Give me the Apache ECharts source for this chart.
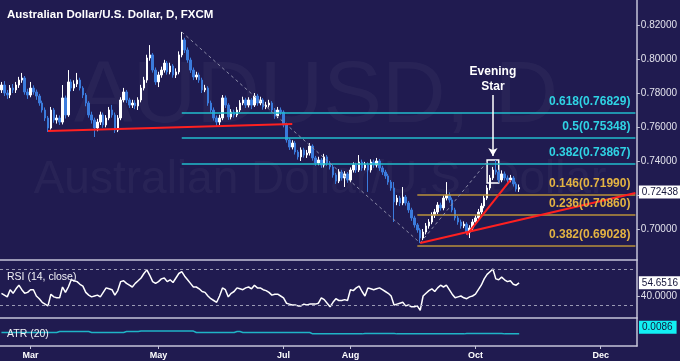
<!DOCTYPE html>
<html>
<head>
<meta charset="utf-8">
<title>Australian Dollar/U.S. Dollar, D</title>
<script src="https://cdn.jsdelivr.net/npm/echarts@6.0.0/dist/echarts.min.js"></script>
<style>
    html, body { margin: 0; padding: 0; background: #201b50; }
    #chart_main { width: 680px; height: 361px; }
</style>
</head>
<body>
<div id="chart_main"></div>
<script>
// daily candles, Feb 16 2015 .. Oct 22 2015 (weekdays)
let opens = [
    0.7818,0.7847,0.7800,0.7788,0.7829, 0.7818,0.7847,0.7876,0.7888,0.7806,
    0.7788,0.7829,0.7806,0.7782,0.7741, 0.7700,0.7653,0.7594,0.7700,0.7641,
    0.7653,0.7629,0.7771,0.7671,0.7865, 0.7829,0.7853,0.7876,0.7829,0.7788,
    0.7741,0.7671,0.7641,0.7594,0.7629, 0.7671,0.7612,0.7653,0.7700,0.7671,
    0.7582,0.7653,0.7759,0.7806,0.7759, 0.7729,0.7741,0.7724,0.7759,0.7829,
    0.7876,0.8006,0.8024,0.7935,0.7865, 0.7906,0.7935,0.7976,0.7924,0.7959,
    0.7906,0.7924,0.8024,0.8112,0.8053, 0.7994,0.7935,0.7894,0.7906,0.7876,
    0.7818,0.7829,0.7741,0.7700,0.7653, 0.7629,0.7653,0.7771,0.7729,0.7659,
    0.7688,0.7671,0.7700,0.7741,0.7759, 0.7729,0.7759,0.7729,0.7782,0.7741,
    0.7759,0.7718,0.7729,0.7741,0.7700, 0.7665,0.7700,0.7688,0.7612,0.7524,
    0.7482,0.7506,0.7453,0.7424,0.7465, 0.7435,0.7447,0.7488,0.7418,0.7388,
    0.7406,0.7376,0.7424,0.7388,0.7365, 0.7318,0.7282,0.7335,0.7300,0.7324,
    0.7288,0.7347,0.7376,0.7347,0.7394, 0.7359,0.7376,0.7347,0.7394,0.7376,
    0.7400,0.7359,0.7335,0.7312,0.7276, 0.7241,0.7159,0.7182,0.7153,0.7188,
    0.7153,0.7112,0.7065,0.7024,0.6994, 0.6947,0.6982,0.7018,0.7041,0.7082,
    0.7100,0.7141,0.7124,0.7182,0.7200, 0.7171,0.7112,0.7065,0.7041,0.7018,
    0.7029,0.6982,0.7006,0.7041,0.7065, 0.7100,0.7135,0.7182,0.7241,0.7300,
    0.7347,0.7335,0.7288,0.7324,0.7300, 0.7288,0.7300,0.7265,0.7235
];
let closes = [
    0.7847,0.7800,0.7788,0.7829,0.7818, 0.7847,0.7876,0.7888,0.7806,0.7788,
    0.7829,0.7806,0.7782,0.7741,0.7700, 0.7653,0.7594,0.7700,0.7641,0.7653,
    0.7629,0.7771,0.7671,0.7865,0.7829, 0.7853,0.7876,0.7829,0.7788,0.7741,
    0.7671,0.7641,0.7594,0.7629,0.7671, 0.7612,0.7653,0.7700,0.7671,0.7582,
    0.7653,0.7759,0.7806,0.7759,0.7729, 0.7741,0.7724,0.7759,0.7829,0.7876,
    0.8006,0.8024,0.7935,0.7865,0.7906, 0.7935,0.7976,0.7924,0.7959,0.7906,
    0.7924,0.8024,0.8112,0.8053,0.7994, 0.7935,0.7894,0.7906,0.7876,0.7818,
    0.7829,0.7741,0.7700,0.7653,0.7629, 0.7653,0.7771,0.7729,0.7659,0.7688,
    0.7671,0.7700,0.7741,0.7759,0.7729, 0.7759,0.7729,0.7782,0.7741,0.7759,
    0.7718,0.7729,0.7741,0.7700,0.7665, 0.7700,0.7688,0.7612,0.7524,0.7482,
    0.7506,0.7453,0.7424,0.7465,0.7435, 0.7447,0.7488,0.7418,0.7388,0.7406,
    0.7376,0.7424,0.7388,0.7365,0.7318, 0.7282,0.7335,0.7300,0.7324,0.7288,
    0.7347,0.7376,0.7347,0.7394,0.7359, 0.7376,0.7347,0.7394,0.7376,0.7400,
    0.7359,0.7335,0.7312,0.7276,0.7241, 0.7159,0.7182,0.7153,0.7188,0.7153,
    0.7112,0.7065,0.7024,0.6994,0.6947, 0.6982,0.7018,0.7041,0.7082,0.7100,
    0.7141,0.7124,0.7182,0.7200,0.7171, 0.7112,0.7065,0.7041,0.7018,0.7029,
    0.6982,0.7006,0.7041,0.7065,0.7100, 0.7135,0.7182,0.7241,0.7300,0.7347,
    0.7335,0.7288,0.7324,0.7300,0.7288, 0.7300,0.7265,0.7235,0.72438
];
let highs = [
    0.7865,0.7870,0.7818,0.7847,0.7853, 0.7865,0.7895,0.7918,0.7900,0.7825,
    0.7865,0.7845,0.7820,0.7795,0.7755, 0.7715,0.7665,0.7718,0.7712,0.7672,
    0.7668,0.7847,0.7785,0.7935,0.7880, 0.7875,0.7918,0.7890,0.7840,0.7800,
    0.7752,0.7690,0.7655,0.7648,0.7690, 0.7685,0.7670,0.7718,0.7730,0.7685,
    0.7670,0.7775,0.7830,0.7818,0.7772, 0.7760,0.7758,0.7775,0.7848,0.7895,
    0.8025,0.8082,0.8035,0.7950,0.7925, 0.7955,0.7995,0.7988,0.7978,0.7970,
    0.7945,0.8045,0.8159,0.8125,0.8068, 0.8008,0.7950,0.7925,0.7920,0.7890,
    0.7848,0.7840,0.7755,0.7715,0.7668, 0.7672,0.7788,0.7785,0.7740,0.7705,
    0.7702,0.7718,0.7758,0.7778,0.7772, 0.7775,0.7770,0.7800,0.7795,0.7778,
    0.7770,0.7748,0.7760,0.7752,0.7712, 0.7718,0.7715,0.7698,0.7625,0.7535,
    0.7522,0.7518,0.7465,0.7480,0.7478, 0.7465,0.7505,0.7498,0.7430,0.7425,
    0.7418,0.7442,0.7435,0.7400,0.7378, 0.7330,0.7352,0.7348,0.7340,0.7335,
    0.7362,0.7392,0.7390,0.7435,0.7408, 0.7395,0.7392,0.7410,0.7408,0.7418,
    0.7412,0.7372,0.7348,0.7325,0.7288, 0.7276,0.7200,0.7195,0.7247,0.7200,
    0.7165,0.7125,0.7078,0.7035,0.7005, 0.7000,0.7035,0.7058,0.7098,0.7118,
    0.7158,0.7155,0.7198,0.7276,0.7215, 0.7185,0.7125,0.7078,0.7055,0.7045,
    0.7040,0.7022,0.7058,0.7082,0.7118, 0.7152,0.7198,0.7258,0.7318,0.7365,
    0.7406,0.7348,0.7345,0.7338,0.7315, 0.7318,0.7312,0.7278,0.7262
];
let lows = [
    0.7800,0.7782,0.7765,0.7770,0.7800, 0.7800,0.7830,0.7860,0.7790,0.7765,
    0.7775,0.7790,0.7760,0.7725,0.7685, 0.7635,0.7571,0.7585,0.7625,0.7620,
    0.7612,0.7615,0.7650,0.7660,0.7810, 0.7812,0.7835,0.7815,0.7770,0.7722,
    0.7655,0.7620,0.7541,0.7575,0.7612, 0.7595,0.7598,0.7640,0.7655,0.7565,
    0.7570,0.7640,0.7745,0.7742,0.7712, 0.7712,0.7705,0.7700,0.7745,0.7815,
    0.7860,0.7990,0.7920,0.7848,0.7835, 0.7890,0.7920,0.7908,0.7910,0.7890,
    0.7888,0.7910,0.8010,0.8035,0.7978, 0.7918,0.7876,0.7878,0.7860,0.7800,
    0.7805,0.7725,0.7685,0.7638,0.7606, 0.7612,0.7640,0.7712,0.7642,0.7645,
    0.7655,0.7658,0.7688,0.7728,0.7712, 0.7715,0.7705,0.7718,0.7725,0.7728,
    0.7702,0.7705,0.7715,0.7685,0.7648, 0.7652,0.7672,0.7598,0.7508,0.7465,
    0.7468,0.7438,0.7408,0.7400,0.7420, 0.7418,0.7432,0.7402,0.7372,0.7375,
    0.7360,0.7362,0.7372,0.7350,0.7302, 0.7265,0.7270,0.7285,0.7247,0.7272,
    0.7275,0.7332,0.7330,0.7335,0.7342, 0.7345,0.7218,0.7332,0.7360,0.7362,
    0.7342,0.7318,0.7295,0.7260,0.7225, 0.7041,0.7140,0.7135,0.7140,0.7138,
    0.7095,0.7048,0.7008,0.6978,0.6918, 0.6935,0.6968,0.7002,0.7028,0.7065,
    0.7088,0.7108,0.7110,0.7168,0.7155, 0.7098,0.7050,0.7025,0.7002,0.7005,
    0.6965,0.6947,0.6995,0.7028,0.7052, 0.7088,0.7122,0.7170,0.7228,0.7288,
    0.7320,0.7272,0.7275,0.7285,0.7272, 0.7275,0.7250,0.7220,0.7218
];
let rsi = [
    43,41,39,47,43, 48,52,47,43,44,
    47,47,40,37,33, 31,29,42,39,38,
    38,50,44,50,58, 57,56,53,51,44,
    41,39,40,41,39, 44,49,48,47,41,
    46,56,57,54,52, 50,54,57,60,65,
    69,63,56,54,56, 59,60,56,58,55,
    60,65,67,62,58, 54,50,50,48,45,
    44,40,37,35,33, 40,49,47,39,43,
    45,49,48,47,49, 50,48,52,49,49,
    47,46,44,41,42, 42,40,38,32,31,
    30,30,29,29,31, 30,31,31,31,32,
    38,36,32,28,33, 37,35,35,36,35,
    47,46,49,51,45, 40,49,48,47,48,
    49,47,45,43,40, 30,31,32,33,29,
    30,28,28,29,24, 40,43,46,48,45,
    49,52,50,52,47, 42,38,39,40,38,
    37,39,40,42,47, 52,59,64,67,70,
    59,58,61,58,56, 57,53,52,54.6516
];
let atr = [
    0.0089,0.0089,0.0089,0.0089,0.0089, 0.0089,0.0089,0.0089,0.0089,0.0089,
    0.0089,0.0089,0.0089,0.0089,0.0089, 0.0089,0.0089,0.0089,0.0089,0.0089,
    0.0091,0.0091,0.0091,0.0091,0.0091, 0.0091,0.0091,0.0091,0.0091,0.0091,
    0.0091,0.0089,0.0089,0.0089,0.0089, 0.0089,0.0089,0.0089,0.0089,0.0089,
    0.0089,0.0089,0.0089,0.0091,0.0091, 0.0091,0.0091,0.0091,0.0092,0.0092,
    0.0092,0.0092,0.0092,0.0092,0.0092, 0.0092,0.0092,0.0092,0.0092,0.0092,
    0.0092,0.0092,0.0092,0.0092,0.0092, 0.0092,0.0092,0.0089,0.0089,0.0089,
    0.0089,0.0089,0.0089,0.0089,0.0089, 0.0089,0.0089,0.0089,0.0089,0.0089,
    0.0089,0.0091,0.0091,0.0089,0.0089, 0.0089,0.0089,0.0089,0.0089,0.0089,
    0.0089,0.0089,0.0089,0.0089,0.0089, 0.0089,0.0089,0.0089,0.0089,0.0089,
    0.0089,0.0089,0.0089,0.0089,0.0089, 0.0089,0.0089,0.0086,0.0086,0.0086,
    0.0086,0.0086,0.0086,0.0086,0.0086, 0.0086,0.0086,0.0086,0.0086,0.0086,
    0.0086,0.0086,0.0086,0.0086,0.0086, 0.0087,0.0087,0.0087,0.0087,0.0087,
    0.0087,0.0087,0.0087,0.0087,0.0087, 0.0087,0.0086,0.0086,0.0086,0.0086,
    0.0086,0.0086,0.0086,0.0086,0.0086, 0.0086,0.0086,0.0086,0.0086,0.0086,
    0.0086,0.0086,0.0086,0.0086,0.0086, 0.0086,0.0086,0.0086,0.0086,0.0086,
    0.0087,0.0087,0.0087,0.0087,0.0087, 0.0087,0.0087,0.0087,0.0087,0.0087,
    0.0087,0.0087,0.0087,0.0086,0.0086, 0.0086,0.0086,0.0086,0.0086
];

let priceTicks = [0.70, 0.72, 0.74, 0.76, 0.78, 0.80, 0.82];
let rsiTicks = [40];
let monthTickDates = ['2015-03-02', '2015-05-01', '2015-07-01', '2015-08-03', '2015-10-01', '2015-12-01'];
let monthTickLabels = ['Mar', 'May', 'Jul', 'Aug', 'Oct', 'Dec'];

let fibUpperLevels = [0.76829, 0.75348, 0.73867];
let fibUpperLabels = ['0.618(0.76829)', '0.5(0.75348)', '0.382(0.73867)'];
let fibLowerLevels = [0.71990, 0.70860, 0.69028];
let fibLowerLabels = ['0.146(0.71990)', '0.236(0.70860)', '0.382(0.69028)'];

// [candle index, price] end points of the drawn studies
let supportLine = [[16, 0.7576], [100, 0.7618]];
let risingLine = [[144, 0.6918], [218, 0.7212]];
let steepLine = [[160, 0.6965], [175, 0.7288]];
let swingDown = [[62, 0.8159], [144, 0.6918]];
let swingUp = [[144, 0.6918], [167, 0.7395]];
let starBox = [[167, 0.7406], [171, 0.7271]];
let starArrow = [[169, 0.7788], [169, 0.7430]];

let lastPrice = 0.72438;
let lastRsi = 54.6516;
let lastAtr = 0.0086;

// category axis: weekdays out to mid december
let dates = [];
let d = new Date(Date.UTC(2015, 1, 16));
while (dates.length < 219) {
    let wd = d.getUTCDay();
    if (wd !== 0 && wd !== 6) {
        dates.push(d.toISOString().slice(0, 10));
    }
    d.setUTCDate(d.getUTCDate() + 1);
}

let candleData = [];
for (let i = 0; i < opens.length; i++) {
    candleData.push([opens[i], closes[i], lows[i], highs[i]]);
}

const BG = '#201b50';
const AXIS = '#c4c4d8';
const TXT = '#e2e2ec';
const FONT = '"Liberation Sans", Arial, sans-serif';

function seg(pts, lineStyle, label) {
    return [
        {coord: [dates[pts[0][0]], pts[0][1]], symbol: 'none', lineStyle: lineStyle, label: label || {show: false}},
        {coord: [dates[pts[1][0]], pts[1][1]], symbol: 'none'}
    ];
}

function fibLine(startIdx, level, text, lineColor, textColor) {
    return seg([[startIdx, level], [218, level]], {color: lineColor, width: 1.5, type: 'solid'}, {
        show: true, position: 'insideEndTop', formatter: text, color: textColor,
        fontFamily: FONT, fontWeight: 'bold', fontSize: 12, distance: 5
    });
}

// last-value tag on the right axis
function valueBox(val, text, bg, dy) {
    return {
        yAxis: val, symbol: 'none',
        lineStyle: {color: 'rgba(0,0,0,0)', width: 1, type: 'solid'},
        label: {
            show: true, position: 'end', formatter: text, distance: 2, offset: [0, dy || 0],
            backgroundColor: bg, color: '#15153a', fontFamily: FONT, fontSize: 10,
            padding: [2, 4, 1, 3]
        }
    };
}

let red = {color: '#ff2020', width: 2, type: 'solid'};
let dash = {color: '#8c8ca8', width: 1, type: [3, 3]};

let priceMarks = [];
for (let i = 0; i < fibUpperLevels.length; i++) {
    priceMarks.push(fibLine(62, fibUpperLevels[i], fibUpperLabels[i], '#20bccb', '#2fd3e4'));
}
for (let i = 0; i < fibLowerLevels.length; i++) {
    priceMarks.push(fibLine(143, fibLowerLevels[i], fibLowerLabels[i], '#b8923a', '#e3b342'));
}
priceMarks.push(seg(swingDown, dash));
priceMarks.push(seg(swingUp, dash));
priceMarks.push(seg(supportLine, red));
priceMarks.push(seg(risingLine, red));
priceMarks.push(seg(steepLine, red));
priceMarks.push([
    {
        coord: [dates[starArrow[0][0]], starArrow[0][1]], symbol: 'none',
        lineStyle: {color: '#ffffff', width: 1.5, type: 'solid'},
        label: {
            show: true, position: 'start', formatter: 'Evening\nStar', color: '#ffffff',
            fontFamily: FONT, fontWeight: 'bold', fontSize: 12, lineHeight: 15, distance: 1
        }
    },
    {coord: [dates[starArrow[1][0]], starArrow[1][1]], symbol: 'arrow', symbolSize: [7, 8]}
]);
priceMarks.push(valueBox(lastPrice, lastPrice.toFixed(5), '#ffffff', -3));

let myChart = echarts.init(document.getElementById('chart_main'), null, {renderer: 'canvas'});

function hiddenX(gridIndex) {
    return {
        type: 'category', gridIndex: gridIndex, data: dates, boundaryGap: true,
        axisLine: {show: true, lineStyle: {color: AXIS, width: 1.5}},
        axisTick: {show: false}, axisLabel: {show: false}, splitLine: {show: false}
    };
}

let option = {
    backgroundColor: BG,
    animation: false,
    textStyle: {fontFamily: FONT},
    graphic: [
        {
            type: 'text', x: 316, y: 98, z: 0, silent: true,
            style: {text: 'AUDUSD, D', fill: 'rgba(255,255,255,0.04)', font: '88px ' + FONT, align: 'center', verticalAlign: 'middle'}
        },
        {
            type: 'text', x: 320, y: 180, z: 0, silent: true,
            style: {text: 'Australian Dollar/U.S. Dollar', fill: 'rgba(255,255,255,0.04)', font: '46px ' + FONT, align: 'center', verticalAlign: 'middle'}
        },
        {
            type: 'text', x: 7, y: 15, z: 10, silent: true,
            style: {text: 'Australian Dollar/U.S. Dollar, D, FXCM', fill: '#ffffff', font: 'bold 11.5px ' + FONT, verticalAlign: 'middle'}
        },
        {
            type: 'text', x: 7, y: 277, z: 10, silent: true,
            style: {text: 'RSI (14, close)', fill: '#f0f0f6', font: '10.5px ' + FONT, verticalAlign: 'middle'}
        },
        {
            type: 'text', x: 7, y: 334, z: 10, silent: true,
            style: {text: 'ATR (20)', fill: '#f0f0f6', font: '10.5px ' + FONT, verticalAlign: 'middle'}
        }
    ],
    grid: [
        {left: 0, right: 43, top: 0, height: 260},
        {left: 0, right: 43, top: 260, height: 58},
        {left: 0, right: 43, top: 318, height: 28}
    ],
    xAxis: [
        hiddenX(0),
        hiddenX(1),
        {
            type: 'category', gridIndex: 2, data: dates, boundaryGap: true,
            axisLine: {show: true, lineStyle: {color: AXIS, width: 1.5}},
            axisTick: {
                show: true, alignWithLabel: true, length: 3, lineStyle: {color: AXIS},
                interval: function (index, value) { return monthTickDates.indexOf(value) >= 0; }
            },
            axisLabel: {
                show: true, color: '#ffffff', fontWeight: 'bold', fontSize: 9, margin: 5,
                interval: function (index, value) { return monthTickDates.indexOf(value) >= 0; },
                formatter: function (value) {
                    let k = monthTickDates.indexOf(value);
                    return k >= 0 ? monthTickLabels[k] : '';
                }
            },
            splitLine: {show: false}
        }
    ],
    yAxis: [
        {
            type: 'value', gridIndex: 0, position: 'right', min: 0.68176, max: 0.83471,
            axisLine: {show: true, lineStyle: {color: AXIS, width: 1.5}},
            axisTick: {show: true, length: 3, lineStyle: {color: AXIS}, customValues: priceTicks},
            axisLabel: {
                show: true, color: TXT, fontSize: 10, margin: 4, customValues: priceTicks,
                formatter: function (v) { return v.toFixed(5); }
            },
            splitLine: {show: false}
        },
        {
            type: 'value', gridIndex: 1, position: 'right', min: 15.56, max: 80,
            axisLine: {show: true, lineStyle: {color: AXIS, width: 1.5}},
            axisTick: {show: true, length: 3, lineStyle: {color: AXIS}, customValues: rsiTicks},
            axisLabel: {
                show: true, color: TXT, fontSize: 10, margin: 4, customValues: rsiTicks,
                formatter: function (v) { return v.toFixed(4); }
            },
            splitLine: {show: false}
        },
        {
            type: 'value', gridIndex: 2, position: 'right', min: 0.006, max: 0.012,
            axisLine: {show: true, lineStyle: {color: AXIS, width: 1.5}},
            axisTick: {show: false}, axisLabel: {show: false}, splitLine: {show: false}
        }
    ],
    series: [
        {
            name: 'AUDUSD',
            type: 'candlestick',
            xAxisIndex: 0, yAxisIndex: 0,
            data: candleData,
            barWidth: 2,
            z: 3,
            itemStyle: {
                color: '#ffffff', color0: '#3b7bdc',
                borderColor: '#ffffff', borderColor0: '#3b7bdc', borderWidth: 1
            },
            markLine: {
                silent: true, symbol: ['none', 'none'], animation: false,
                data: priceMarks
            },
            markArea: {
                silent: true,
                itemStyle: {color: 'rgba(0,0,0,0)', borderColor: '#ffffff', borderWidth: 1.5},
                data: [[
                    {coord: [dates[starBox[0][0]], starBox[0][1]]},
                    {coord: [dates[starBox[1][0]], starBox[1][1]]}
                ]]
            }
        },
        {
            name: 'RSI (14, close)',
            type: 'line',
            xAxisIndex: 1, yAxisIndex: 1,
            data: rsi,
            showSymbol: false,
            lineStyle: {color: '#ffffff', width: 1.5},
            markLine: {
                silent: true, symbol: ['none', 'none'], animation: false,
                data: [
                    {yAxis: 70, lineStyle: {color: '#9a9ab4', width: 1, type: [3, 3]}, label: {show: false}},
                    {yAxis: 30, lineStyle: {color: '#9a9ab4', width: 1, type: [3, 3]}, label: {show: false}},
                    valueBox(lastRsi, lastRsi.toFixed(4), '#ffffff', 0)
                ]
            }
        },
        {
            name: 'ATR (20)',
            type: 'line',
            xAxisIndex: 2, yAxisIndex: 2,
            data: atr,
            showSymbol: false,
            lineStyle: {color: '#1fb4c6', width: 1.5},
            markLine: {
                silent: true, symbol: ['none', 'none'], animation: false,
                data: [valueBox(lastAtr, lastAtr.toFixed(4), '#12f0f4', 0)]
            }
        }
    ]
};

myChart.setOption(option);
</script>
</body>
</html>
